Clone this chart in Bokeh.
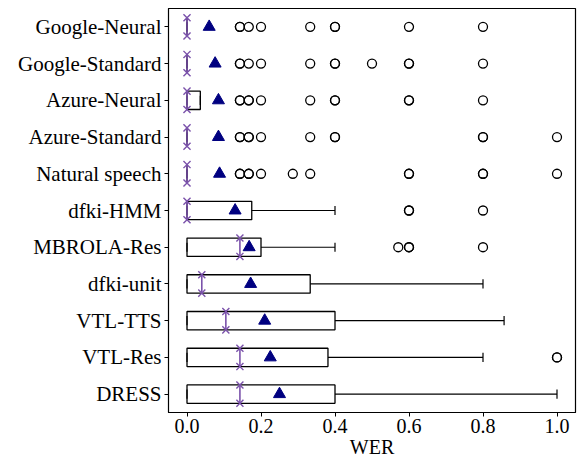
from bokeh.plotting import figure
from bokeh.models import FixedTicker, ColumnDataSource
from bokeh.embed import file_html
from bokeh.resources import INLINE

categories = ["Google-Neural", "Google-Standard", "Azure-Neural", "Azure-Standard",
              "Natural speech", "dfki-HMM", "MBROLA-Res", "dfki-unit", "VTL-TTS",
              "VTL-Res", "DRESS"]
q1 = [0, 0, 0, 0, 0, 0, 0, 0, 0, 0, 0]
q3 = [0, 0, 0.036, 0, 0, 0.175, 0.2, 0.333, 0.4, 0.381, 0.4]
median = [0, 0, 0, 0, 0, 0, 0.143, 0.04, 0.105, 0.143, 0.143]
whisker_lo = [0, 0, 0, 0, 0, 0, 0, 0, 0, 0, 0]
whisker_hi = [0, 0, 0.036, 0, 0, 0.4, 0.4, 0.8, 0.857, 0.8, 1.0]
mean = [0.060, 0.076, 0.085, 0.085, 0.088, 0.130, 0.168, 0.172, 0.210, 0.225, 0.250]
fliers = [
    [0.143, 0.143, 0.167, 0.2, 0.333, 0.4, 0.4, 0.6, 0.8],
    [0.143, 0.143, 0.167, 0.2, 0.333, 0.4, 0.4, 0.5, 0.6, 0.6, 0.8],
    [0.143, 0.143, 0.167, 0.167, 0.2, 0.333, 0.4, 0.4, 0.6, 0.6, 0.8],
    [0.143, 0.143, 0.167, 0.167, 0.2, 0.333, 0.4, 0.4, 0.8, 0.8, 1.0],
    [0.143, 0.143, 0.167, 0.167, 0.2, 0.286, 0.333, 0.6, 0.6, 0.8, 0.8, 1.0],
    [0.6, 0.6, 0.8],
    [0.571, 0.6, 0.6, 0.8],
    [],
    [],
    [1.0, 1.0],
    [],
]
x_ticks = [0.0, 0.2, 0.4, 0.6, 0.8, 1.0]
x_label = "WER"

n = len(categories)
ypos = [n - i for i in range(n)]  # top row at highest position
half = 0.25
cap = 0.125

FONT = "Liberation Serif"
PURPLE = "#7b52ab"

p = figure(width=577, height=462, output_backend="svg", toolbar_location=None,
           x_range=(-0.05, 1.05), y_range=(0.5, n + 0.5),
           min_border_left=168, min_border_right=2, min_border_top=8,
           min_border_bottom=50)

src = ColumnDataSource(dict(
    y=ypos, q1=q1, q3=q3, med=median, lo=whisker_lo, hi=whisker_hi, mean=mean,
    ylo=[y - half for y in ypos], yhi=[y + half for y in ypos],
    clo=[y - cap for y in ypos], chi=[y + cap for y in ypos],
))

# whiskers
p.segment(x0="q3", y0="y", x1="hi", y1="y", source=src, line_color="black", line_width=1.2)
p.segment(x0="lo", y0="y", x1="q1", y1="y", source=src, line_color="black", line_width=1.2)
# caps
p.segment(x0="hi", y0="clo", x1="hi", y1="chi", source=src, line_color="black", line_width=1.2)
p.segment(x0="lo", y0="clo", x1="lo", y1="chi", source=src, line_color="black", line_width=1.2)
# boxes
p.quad(left="q1", right="q3", bottom="ylo", top="yhi", source=src,
       fill_color="white", fill_alpha=0, line_color="black", line_width=1.3)
# median
p.segment(x0="med", y0="ylo", x1="med", y1="yhi", source=src, line_color=PURPLE, line_width=1.6)
p.scatter(x="med", y="ylo", source=src, marker="x", size=10, line_color=PURPLE, line_width=1.4)
p.scatter(x="med", y="yhi", source=src, marker="x", size=10, line_color=PURPLE, line_width=1.4)

# fliers
fx, fy = [], []
for y, fl in zip(ypos, fliers):
    for v in fl:
        fx.append(v)
        fy.append(y)
p.scatter(fx, fy, marker="circle", size=9, fill_color=None, line_color="black", line_width=1.3)

# means
p.scatter(x="mean", y="y", source=src, marker="triangle", size=12,
          fill_color="#000080", line_color="#000080")

p.xgrid.visible = False
p.ygrid.visible = False
p.outline_line_color = "black"
p.outline_line_width = 1.2

p.yaxis.ticker = FixedTicker(ticks=ypos)
p.yaxis.major_label_overrides = {y: c for y, c in zip(ypos, categories)}
p.xaxis.ticker = FixedTicker(ticks=x_ticks)
p.xaxis.major_label_overrides = {t: f"{t:.1f}" for t in x_ticks}
p.xaxis.axis_label = x_label

for ax in (p.xaxis, p.yaxis):
    ax.minor_tick_line_color = None
    ax.major_tick_in = 0
    ax.major_tick_out = 4
    ax.major_tick_line_color = "black"
    ax.axis_line_color = "black"
    ax.major_label_text_font = FONT
    ax.major_label_text_font_size = "21px"
    ax.major_label_text_color = "black"
    ax.axis_label_text_font = FONT
    ax.axis_label_text_font_size = "21px"
    ax.axis_label_text_font_style = "normal"
    ax.axis_label_text_color = "black"
p.xaxis.major_label_text_font_size = "20px"
p.xaxis.axis_label_text_font_size = "20px"
p.yaxis.major_label_standoff = 3
p.xaxis.major_label_standoff = 2
p.xaxis.axis_label_standoff = 0

open("out.html", "w").write(file_html(p, INLINE))
